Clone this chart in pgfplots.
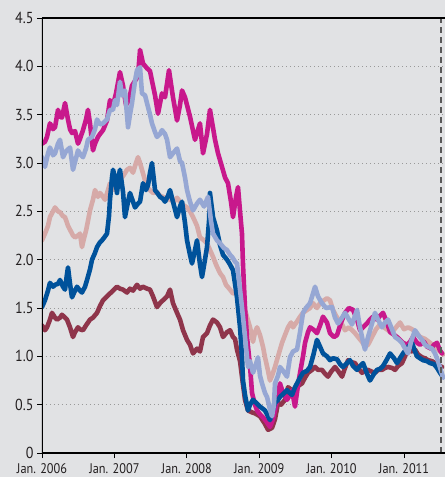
\documentclass[border=0pt]{standalone}
\usepackage{fontspec}
\setmainfont{PT Sans}[FakeStretch=0.88]
\usepackage{pgfplots}
\pgfplotsset{compat=1.18}
\definecolor{bg}{RGB}{225,226,228}
\definecolor{cmag}{RGB}{200,24,140}
\definecolor{cperi}{RGB}{150,167,212}
\definecolor{crose}{RGB}{214,170,168}
\definecolor{cblue}{RGB}{0,82,155}
\definecolor{cmaroon}{RGB}{143,53,75}
\definecolor{textc}{RGB}{35,31,32}
\begin{document}
\begin{tikzpicture}
\fill[bg] (-42bp,-24bp) rectangle (403bp,453bp);
\begin{axis}[
  at={(0,0)}, anchor=south west,
  scale only axis, width=403bp, height=435bp,
  xmin=2006, xmax=2011.566, ymin=0, ymax=4.5,
  axis line style={draw=none},
  xtick={2006,2007,2008,2009,2010,2011},
  xticklabels={Jan. 2006,Jan. 2007,Jan. 2008,Jan. 2009,Jan. 2010,Jan. 2011},
  ytick={0,0.5,1,1.5,2,2.5,3,3.5,4,4.5},
  yticklabels={0,0.5,1.0,1.5,2.0,2.5,3.0,3.5,4.0,4.5},
  tick align=outside, xtick pos=left, ytick pos=left,
  major tick length=5bp,
  tick style={black, line width=0.9bp},
  ymajorgrids,
  grid style={gray!80, line width=0.8bp, dash pattern=on 1bp off 3bp},
  yticklabel style={font=\fontsize{16}{16}\selectfont, text=textc},
  xticklabel style={font=\fontsize{14}{14}\selectfont, text=textc, yshift=-2bp},
  every axis plot/.append style={line width=4.6bp, line join=round, line cap=round},
]
\addplot[cmaroon] coordinates {(2006.000,1.32)(2006.041,1.27)(2006.069,1.30)(2006.110,1.38)(2006.138,1.45)(2006.180,1.40)(2006.207,1.38)(2006.249,1.40)(2006.276,1.43)(2006.318,1.40)(2006.345,1.38)(2006.387,1.30)(2006.428,1.20)(2006.456,1.25)(2006.497,1.30)(2006.525,1.28)(2006.566,1.27)(2006.608,1.32)(2006.663,1.38)(2006.704,1.40)(2006.760,1.45)(2006.801,1.52)(2006.843,1.58)(2006.898,1.62)(2006.939,1.65)(2006.981,1.68)(2007.036,1.72)(2007.077,1.70)(2007.119,1.69)(2007.174,1.66)(2007.215,1.70)(2007.257,1.68)(2007.312,1.74)(2007.354,1.70)(2007.395,1.72)(2007.450,1.70)(2007.492,1.69)(2007.533,1.62)(2007.588,1.51)(2007.630,1.55)(2007.671,1.58)(2007.727,1.62)(2007.768,1.69)(2007.809,1.55)(2007.865,1.45)(2007.906,1.38)(2007.948,1.27)(2008.003,1.17)(2008.044,1.12)(2008.086,1.03)(2008.141,1.08)(2008.182,1.05)(2008.224,1.20)(2008.279,1.24)(2008.320,1.32)(2008.362,1.38)(2008.417,1.35)(2008.459,1.30)(2008.500,1.20)(2008.555,1.25)(2008.597,1.27)(2008.638,1.20)(2008.666,1.18)(2008.693,1.07)(2008.735,0.95)(2008.762,0.79)(2008.804,0.55)(2008.845,0.44)(2008.901,0.42)(2008.942,0.41)(2009.011,0.38)(2009.080,0.30)(2009.122,0.24)(2009.177,0.26)(2009.218,0.35)(2009.260,0.52)(2009.301,0.50)(2009.356,0.55)(2009.398,0.68)(2009.453,0.65)(2009.494,0.66)(2009.550,0.70)(2009.591,0.72)(2009.633,0.78)(2009.674,0.83)(2009.729,0.86)(2009.771,0.89)(2009.812,0.86)(2009.867,0.86)(2009.909,0.82)(2009.950,0.79)(2009.992,0.84)(2010.047,0.89)(2010.088,0.85)(2010.144,0.79)(2010.185,0.88)(2010.227,0.96)(2010.268,0.94)(2010.323,0.93)(2010.365,0.88)(2010.420,0.83)(2010.461,0.85)(2010.503,0.86)(2010.558,0.84)(2010.599,0.83)(2010.641,0.86)(2010.696,0.86)(2010.738,0.88)(2010.779,0.89)(2010.834,0.88)(2010.876,0.86)(2010.917,0.90)(2010.972,0.93)(2011.014,1.00)(2011.055,1.07)(2011.110,1.05)(2011.152,1.07)(2011.193,1.02)(2011.249,0.99)(2011.290,0.98)(2011.331,0.96)(2011.387,0.95)(2011.428,0.93)(2011.470,0.91)(2011.525,0.89)};
\addplot[crose] coordinates {(2006.000,2.20)(2006.041,2.27)(2006.083,2.35)(2006.110,2.44)(2006.152,2.50)(2006.180,2.54)(2006.221,2.50)(2006.249,2.49)(2006.290,2.45)(2006.318,2.44)(2006.359,2.35)(2006.387,2.31)(2006.428,2.25)(2006.456,2.23)(2006.497,2.25)(2006.525,2.27)(2006.552,2.13)(2006.580,2.22)(2006.608,2.30)(2006.635,2.40)(2006.663,2.51)(2006.704,2.62)(2006.732,2.72)(2006.773,2.65)(2006.801,2.69)(2006.843,2.65)(2006.870,2.62)(2006.912,2.72)(2006.939,2.79)(2006.981,2.74)(2007.008,2.72)(2007.050,2.78)(2007.077,2.82)(2007.133,2.88)(2007.174,2.93)(2007.215,2.95)(2007.257,2.90)(2007.298,3.00)(2007.326,3.06)(2007.354,3.00)(2007.381,2.93)(2007.423,2.82)(2007.450,2.75)(2007.492,2.72)(2007.533,2.69)(2007.588,2.70)(2007.630,2.66)(2007.671,2.65)(2007.727,2.63)(2007.768,2.62)(2007.823,2.60)(2007.865,2.64)(2007.906,2.60)(2007.961,2.56)(2008.003,2.54)(2008.044,2.50)(2008.086,2.44)(2008.141,2.35)(2008.182,2.23)(2008.238,2.20)(2008.279,2.17)(2008.320,2.10)(2008.362,2.03)(2008.403,1.95)(2008.459,1.86)(2008.500,1.82)(2008.541,1.74)(2008.597,1.69)(2008.638,1.65)(2008.693,1.66)(2008.735,1.60)(2008.776,1.55)(2008.831,1.41)(2008.873,1.30)(2008.914,1.15)(2008.942,1.25)(2008.970,1.30)(2009.011,1.22)(2009.052,1.10)(2009.080,0.99)(2009.122,0.85)(2009.149,0.75)(2009.177,0.80)(2009.218,0.89)(2009.260,1.00)(2009.315,1.14)(2009.356,1.22)(2009.398,1.30)(2009.439,1.35)(2009.467,1.30)(2009.522,1.36)(2009.564,1.41)(2009.605,1.45)(2009.660,1.48)(2009.702,1.50)(2009.743,1.55)(2009.798,1.50)(2009.840,1.55)(2009.895,1.58)(2009.936,1.60)(2009.978,1.58)(2010.019,1.48)(2010.075,1.40)(2010.130,1.35)(2010.185,1.27)(2010.240,1.30)(2010.282,1.27)(2010.323,1.24)(2010.365,1.20)(2010.420,1.15)(2010.461,1.10)(2010.503,1.12)(2010.558,1.20)(2010.613,1.28)(2010.669,1.33)(2010.724,1.30)(2010.779,1.27)(2010.834,1.25)(2010.890,1.30)(2010.945,1.35)(2011.000,1.28)(2011.055,1.30)(2011.110,1.28)(2011.166,1.25)(2011.221,1.20)(2011.290,1.18)(2011.359,1.14)(2011.428,1.10)(2011.497,1.05)(2011.539,1.02)};
\addplot[cmag] coordinates {(2006.000,3.20)(2006.041,3.22)(2006.069,3.27)(2006.110,3.41)(2006.152,3.35)(2006.180,3.37)(2006.221,3.55)(2006.249,3.48)(2006.276,3.47)(2006.318,3.62)(2006.359,3.45)(2006.387,3.35)(2006.414,3.31)(2006.456,3.33)(2006.497,3.20)(2006.525,3.25)(2006.566,3.34)(2006.608,3.45)(2006.635,3.55)(2006.663,3.41)(2006.704,3.13)(2006.732,3.20)(2006.773,3.27)(2006.801,3.30)(2006.843,3.34)(2006.898,3.44)(2006.939,3.65)(2006.981,3.60)(2007.022,3.72)(2007.077,3.94)(2007.119,3.80)(2007.160,3.60)(2007.202,3.65)(2007.243,3.80)(2007.285,3.85)(2007.326,3.90)(2007.354,4.17)(2007.395,4.03)(2007.450,3.98)(2007.492,3.95)(2007.533,3.80)(2007.561,3.70)(2007.602,3.51)(2007.657,3.72)(2007.699,3.68)(2007.754,3.96)(2007.809,3.68)(2007.865,3.44)(2007.906,3.60)(2007.934,3.75)(2007.975,3.68)(2008.044,3.48)(2008.113,3.24)(2008.182,3.41)(2008.224,3.10)(2008.279,3.30)(2008.320,3.55)(2008.390,3.24)(2008.431,3.10)(2008.486,2.96)(2008.528,2.85)(2008.569,2.79)(2008.610,2.60)(2008.638,2.44)(2008.680,2.65)(2008.707,2.75)(2008.735,2.50)(2008.762,2.27)(2008.776,1.95)(2008.804,1.50)(2008.831,1.20)(2008.873,0.90)(2008.901,0.62)(2008.942,0.50)(2008.970,0.44)(2009.011,0.40)(2009.052,0.37)(2009.094,0.33)(2009.149,0.27)(2009.191,0.35)(2009.218,0.44)(2009.260,0.60)(2009.287,0.72)(2009.329,0.62)(2009.384,0.55)(2009.425,0.60)(2009.453,0.65)(2009.494,0.48)(2009.536,0.70)(2009.564,0.83)(2009.605,1.00)(2009.633,1.14)(2009.674,1.25)(2009.702,1.30)(2009.743,1.28)(2009.798,1.24)(2009.840,1.32)(2009.881,1.41)(2009.936,1.35)(2009.978,1.24)(2010.033,1.20)(2010.075,1.22)(2010.130,1.35)(2010.185,1.45)(2010.240,1.50)(2010.296,1.48)(2010.351,1.38)(2010.392,1.27)(2010.434,1.30)(2010.489,1.34)(2010.530,1.38)(2010.572,1.41)(2010.627,1.38)(2010.669,1.42)(2010.710,1.45)(2010.765,1.35)(2010.807,1.25)(2010.848,1.23)(2010.903,1.20)(2010.945,1.17)(2010.986,1.14)(2011.041,1.12)(2011.083,1.15)(2011.124,1.20)(2011.180,1.14)(2011.221,1.12)(2011.276,1.15)(2011.318,1.10)(2011.373,1.08)(2011.414,1.12)(2011.456,1.14)(2011.497,1.06)(2011.525,1.03)};
\addplot[cblue] coordinates {(2006.000,1.51)(2006.041,1.58)(2006.083,1.68)(2006.110,1.76)(2006.152,1.72)(2006.180,1.74)(2006.221,1.75)(2006.249,1.79)(2006.290,1.72)(2006.318,1.69)(2006.345,1.85)(2006.359,1.92)(2006.387,1.75)(2006.414,1.61)(2006.456,1.68)(2006.483,1.72)(2006.525,1.68)(2006.552,1.66)(2006.594,1.72)(2006.622,1.79)(2006.663,1.90)(2006.691,2.00)(2006.732,2.07)(2006.760,2.13)(2006.801,2.18)(2006.829,2.20)(2006.870,2.24)(2006.898,2.27)(2006.925,2.45)(2006.939,2.62)(2006.967,2.85)(2006.981,2.93)(2007.008,2.85)(2007.036,2.69)(2007.064,2.88)(2007.077,2.93)(2007.119,2.70)(2007.146,2.44)(2007.188,2.60)(2007.215,2.69)(2007.257,2.60)(2007.285,2.54)(2007.326,2.58)(2007.354,2.60)(2007.395,2.79)(2007.436,2.72)(2007.464,2.77)(2007.492,2.90)(2007.519,3.00)(2007.561,2.72)(2007.602,2.68)(2007.630,2.65)(2007.671,2.63)(2007.699,2.60)(2007.740,2.66)(2007.768,2.72)(2007.809,2.60)(2007.865,2.44)(2007.906,2.55)(2007.934,2.60)(2007.975,2.38)(2008.003,2.20)(2008.044,2.05)(2008.072,1.96)(2008.113,2.10)(2008.141,2.20)(2008.182,1.95)(2008.210,1.82)(2008.251,2.00)(2008.279,2.13)(2008.307,2.40)(2008.320,2.69)(2008.362,2.44)(2008.417,2.30)(2008.459,2.15)(2008.500,2.05)(2008.555,2.00)(2008.597,1.95)(2008.638,1.89)(2008.666,1.75)(2008.693,1.61)(2008.735,1.30)(2008.762,1.00)(2008.776,0.75)(2008.804,0.60)(2008.845,0.44)(2008.873,0.50)(2008.914,0.55)(2008.956,0.52)(2009.011,0.48)(2009.080,0.44)(2009.122,0.38)(2009.149,0.34)(2009.191,0.45)(2009.218,0.52)(2009.260,0.55)(2009.287,0.58)(2009.343,0.62)(2009.384,0.65)(2009.425,0.62)(2009.453,0.60)(2009.494,0.68)(2009.522,0.72)(2009.564,0.78)(2009.605,0.83)(2009.660,0.85)(2009.702,0.89)(2009.743,1.00)(2009.798,1.17)(2009.840,1.10)(2009.881,1.03)(2009.936,1.00)(2009.978,0.96)(2010.019,0.98)(2010.075,0.97)(2010.116,0.92)(2010.157,0.89)(2010.213,0.93)(2010.254,0.96)(2010.296,0.90)(2010.351,0.86)(2010.392,0.90)(2010.434,0.93)(2010.489,0.82)(2010.530,0.75)(2010.586,0.82)(2010.627,0.86)(2010.669,0.87)(2010.710,0.90)(2010.765,0.97)(2010.807,1.03)(2010.862,0.98)(2010.903,0.93)(2010.945,0.98)(2010.986,1.03)(2011.041,1.08)(2011.083,1.12)(2011.110,1.14)(2011.152,1.05)(2011.180,1.00)(2011.221,0.98)(2011.262,0.96)(2011.318,0.95)(2011.359,0.93)(2011.414,0.92)(2011.456,0.88)(2011.497,0.83)(2011.525,0.80)};
\addplot[cperi] coordinates {(2006.000,3.06)(2006.041,2.96)(2006.083,3.10)(2006.110,3.16)(2006.152,3.08)(2006.180,3.10)(2006.221,3.20)(2006.249,3.24)(2006.290,3.06)(2006.331,3.12)(2006.387,3.16)(2006.428,2.93)(2006.470,3.05)(2006.497,3.13)(2006.539,3.08)(2006.566,3.06)(2006.608,3.15)(2006.635,3.24)(2006.691,3.27)(2006.732,3.35)(2006.760,3.45)(2006.801,3.40)(2006.843,3.41)(2006.898,3.45)(2006.939,3.55)(2006.981,3.55)(2007.008,3.65)(2007.036,3.60)(2007.077,3.84)(2007.105,3.70)(2007.146,3.75)(2007.188,3.37)(2007.215,3.50)(2007.243,3.62)(2007.285,3.85)(2007.312,3.96)(2007.354,3.99)(2007.381,3.72)(2007.423,3.70)(2007.450,3.62)(2007.492,3.50)(2007.519,3.41)(2007.561,3.32)(2007.588,3.27)(2007.630,3.30)(2007.657,3.34)(2007.699,3.30)(2007.727,3.24)(2007.768,3.06)(2007.809,3.10)(2007.865,3.15)(2007.906,3.02)(2007.934,3.00)(2007.975,2.85)(2008.003,2.72)(2008.044,2.60)(2008.086,2.51)(2008.141,2.58)(2008.182,2.62)(2008.238,2.55)(2008.293,2.65)(2008.334,2.40)(2008.362,2.27)(2008.417,2.20)(2008.459,2.17)(2008.514,2.12)(2008.555,2.10)(2008.597,2.05)(2008.624,2.03)(2008.666,1.98)(2008.693,1.96)(2008.735,1.69)(2008.776,1.41)(2008.804,1.20)(2008.845,0.89)(2008.873,0.95)(2008.914,0.83)(2008.956,0.92)(2008.983,0.99)(2009.011,0.80)(2009.039,0.72)(2009.080,0.62)(2009.108,0.58)(2009.149,0.45)(2009.177,0.38)(2009.204,0.50)(2009.218,0.72)(2009.260,0.80)(2009.287,0.89)(2009.329,0.85)(2009.384,0.79)(2009.425,0.99)(2009.467,1.05)(2009.522,1.07)(2009.564,1.25)(2009.605,1.45)(2009.646,1.50)(2009.702,1.55)(2009.743,1.65)(2009.771,1.72)(2009.812,1.62)(2009.867,1.55)(2009.923,1.50)(2010.006,1.51)(2010.047,1.40)(2010.088,1.34)(2010.144,1.40)(2010.185,1.45)(2010.240,1.38)(2010.282,1.33)(2010.323,1.42)(2010.351,1.48)(2010.392,1.30)(2010.434,1.15)(2010.461,1.07)(2010.503,1.20)(2010.558,1.34)(2010.599,1.45)(2010.641,1.38)(2010.696,1.30)(2010.738,1.35)(2010.779,1.38)(2010.834,1.28)(2010.876,1.20)(2010.931,1.17)(2010.972,1.14)(2011.014,1.08)(2011.055,1.03)(2011.097,1.15)(2011.152,1.27)(2011.193,1.22)(2011.249,1.17)(2011.290,1.12)(2011.331,1.10)(2011.387,1.08)(2011.428,1.03)(2011.470,0.95)(2011.511,0.85)(2011.539,0.78)};
\addplot[black!65, line width=1.6bp, line cap=butt, dash pattern=on 6bp off 4bp] coordinates {(2011.511,0) (2011.511,4.5)};
\draw[black, line width=1.3bp] (rel axis cs:0,0) -- (rel axis cs:1,0);
\draw[black, line width=1.3bp] (rel axis cs:0,1) -- (rel axis cs:1,1);
\draw[black, line width=1.3bp] (rel axis cs:0,0) -- (rel axis cs:0,1);
\end{axis}
\pgfresetboundingbox
\path (-42bp,-24bp) rectangle (403bp,453bp);
\end{tikzpicture}
\end{document}
